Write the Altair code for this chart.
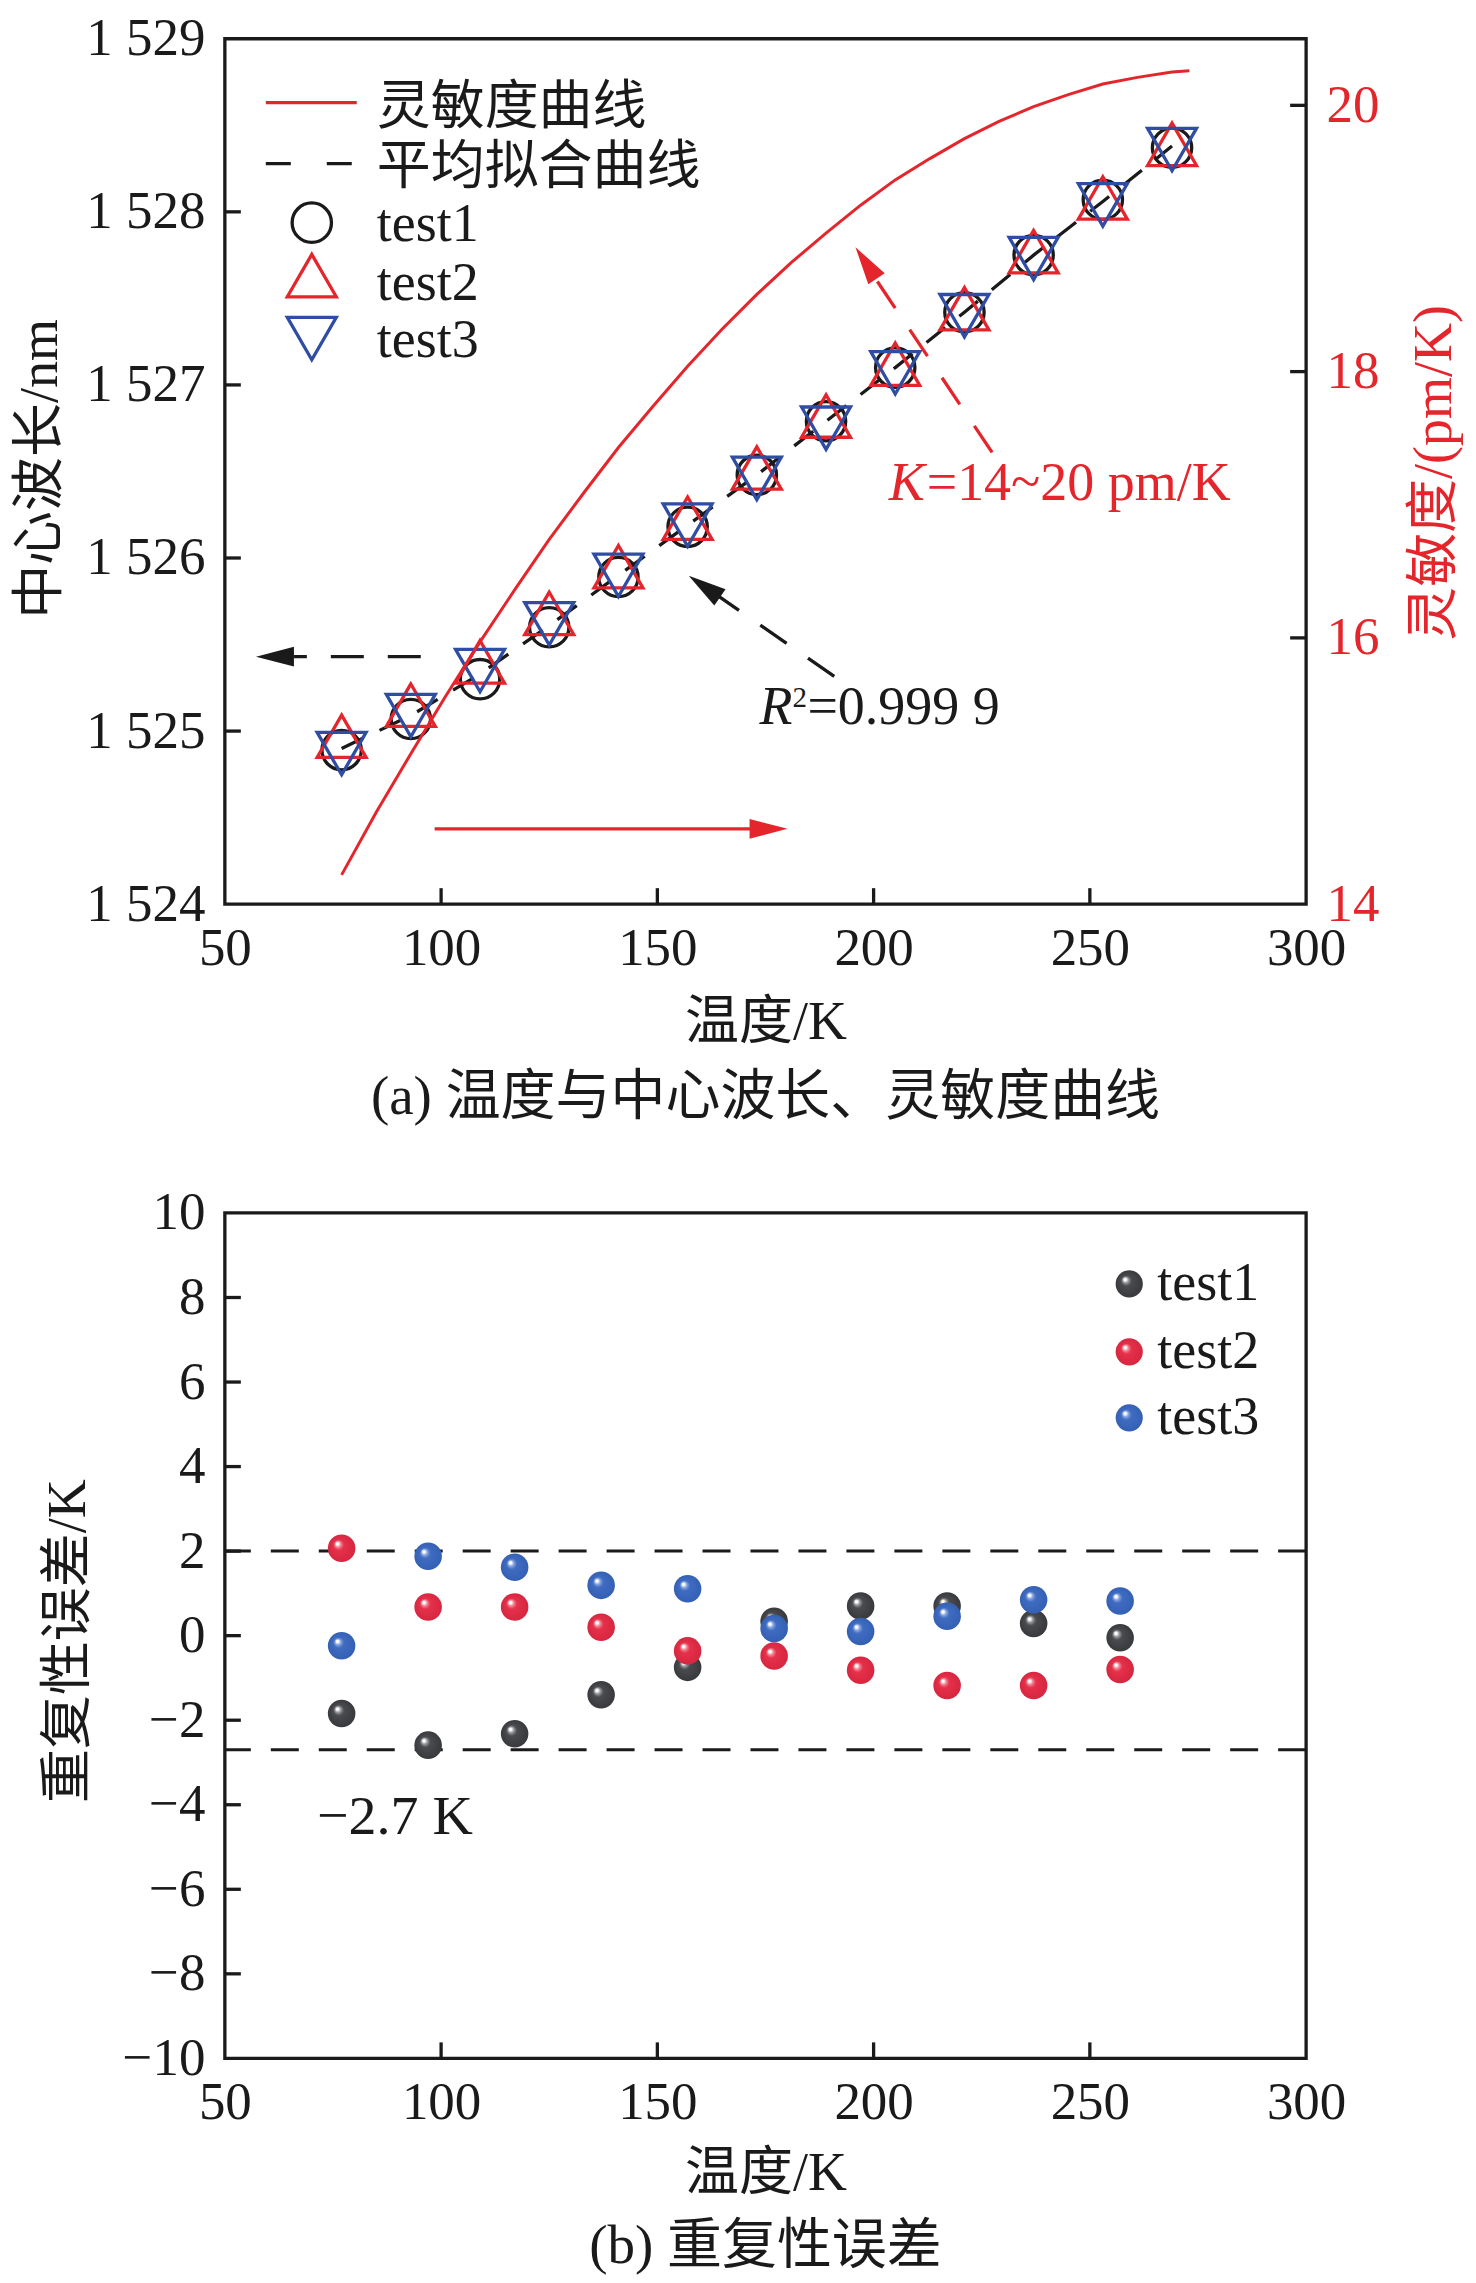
import altair as alt
import pandas as pd

FONT = "Liberation Serif, Noto Sans CJK SC"
RED = "#E4262C"
BLUE = "#2F4DA2"
BLACK = "#1A1A1A"

# ---------------- data: panel (a) ----------------
temp_a = [77, 93, 109, 125, 141, 157, 173, 189, 205, 221, 237, 253, 269]
wl_test1 = [1524.89, 1525.07, 1525.30, 1525.60, 1525.89, 1526.18, 1526.48, 1526.79, 1527.10, 1527.42, 1527.75, 1528.07, 1528.37]
wl_test2 = [1524.97, 1525.15, 1525.40, 1525.68, 1525.95, 1526.23, 1526.52, 1526.82, 1527.12, 1527.44, 1527.77, 1528.08, 1528.39]
wl_test3 = [1524.87, 1525.09, 1525.35, 1525.62, 1525.90, 1526.19, 1526.46, 1526.75, 1527.07, 1527.40, 1527.73, 1528.04, 1528.36]
wl_fit = [1524.90, 1525.09, 1525.33, 1525.61, 1525.90, 1526.19, 1526.48, 1526.79, 1527.10, 1527.42, 1527.75, 1528.06, 1528.38]

sens_temp = [77, 85, 93, 101, 109, 117, 125, 133, 141, 149, 157, 165, 173, 181, 189,
             197, 205, 213, 221, 229, 237, 245, 253, 261, 269, 273]
sens_val = [14.22, 14.69, 15.13, 15.56, 15.97, 16.36, 16.74, 17.09, 17.43, 17.74, 18.04,
            18.32, 18.58, 18.82, 19.04, 19.25, 19.44, 19.60, 19.75, 19.88, 19.99, 20.08,
            20.16, 20.21, 20.25, 20.26]

x_ticks = [50, 100, 150, 200, 250, 300]
wl_ticks = [1524, 1525, 1526, 1527, 1528, 1529]
sens_ticks = [14, 16, 18, 20]

# annotation anchor points (data coordinates)
arrow_left_T = [95.3, 66.0]
arrow_left_wl = [1525.43, 1525.43]
arrow_left_tip = (57.2, 1525.43)
arrow_right_T = [98.5, 172.0]
arrow_right_wl = [1524.435, 1524.435]
arrow_right_tip = (180.1, 1524.435)
arrow_r2_T = [190.9, 163.7]
arrow_r2_wl = [1525.316, 1525.787]
arrow_r2_tip = (157.25, 1525.898)
arrow_k_T = [227.4, 200.8]
arrow_k_wl = [1526.61, 1527.60]
arrow_k_tip = (195.8, 1527.796)
r2_pos = (173.6, 1525.04)
k_pos = (203.5, 1526.333)

# ---------------- data: panel (b) ----------------
temp_b = [77, 97, 117, 137, 157, 177, 197, 217, 237, 257]
err_test1 = [-1.84, -2.59, -2.32, -1.40, -0.75, 0.34, 0.70, 0.70, 0.29, -0.05]
err_test2 = [2.07, 0.68, 0.68, 0.20, -0.36, -0.48, -0.82, -1.18, -1.18, -0.80]
err_test3 = [-0.24, 1.88, 1.62, 1.19, 1.11, 0.17, 0.10, 0.46, 0.85, 0.82]
err_limits = [2.0, -2.7]
err_ticks = [-10, -8, -6, -4, -2, 0, 2, 4, 6, 8, 10]
limit_label_pos = (71.3, -4.69)

W, HA, HB = 1082, 866, 846
TICK = 16
SW = 3.3
LBL = 53   # tick label size
TTL = 54   # axis title size
TXT = 54   # legend / annotation size
CAP = 55   # caption size

xs = alt.Scale(domain=[50, 300], nice=False, zero=False)
ys_a = alt.Scale(domain=[1524, 1529], nice=False, zero=False)
ys_r = alt.Scale(domain=[14, 20.5], nice=False, zero=False)
ys_b = alt.Scale(domain=[-10, 10], nice=False, zero=False)

common_axis = dict(domain=False, ticks=False, grid=False, labelFont=FONT, labelFontSize=LBL,
                   labelColor=BLACK, labelFlush=False, labelOverlap=False, titleFont=FONT,
                   titleFontSize=TTL, titleFontWeight="normal", titleColor=BLACK)

x_axis_a = alt.Axis(values=x_ticks, title="温度/K", labelPadding=18, titleX=W / 2, titleY=118,
                    titleBaseline="middle", titleAlign="center", **common_axis)
left_axis = alt.Axis(values=wl_ticks, title="中心波长/nm", orient="left", labelPadding=20,
                     labelExpr="floor(datum.value/1000) + ' ' + (datum.value % 1000)",
                     titleX=-184, titleY=430, titleAngle=270, titleBaseline="middle",
                     titleAlign="center", **common_axis)
right_axis_kw = dict(common_axis)
right_axis_kw.update(labelColor=RED, titleColor=RED)
right_axis = alt.Axis(values=sens_ticks, title="灵敏度/(pm/K)", orient="right", labelPadding=20,
                      titleX=128, titleY=434, titleAngle=270, titleBaseline="middle",
                      titleAlign="center", **right_axis_kw)
x_axis_b = alt.Axis(values=x_ticks, title="温度/K", labelPadding=18, titleX=W / 2, titleY=115,
                    titleBaseline="middle", titleAlign="center", **common_axis)
y_axis_b = alt.Axis(values=err_ticks, title="重复性误差/K", orient="left", labelPadding=20,
                    titleX=-156, titleY=428, titleAngle=270, titleBaseline="middle",
                    titleAlign="center", **common_axis)

one = pd.DataFrame({"k": [0]})
ARROW = "M0,0L0.52,2L-0.52,2Z"


def XA(field="T"):
    return alt.X(field, type="quantitative", scale=xs, axis=x_axis_a)


def YA(field):
    return alt.Y(field, type="quantitative", scale=ys_a, axis=left_axis)


def YR(field):
    return alt.Y(field, type="quantitative", scale=ys_r, axis=right_axis)


def XB(field="T"):
    return alt.X(field, type="quantitative", scale=xs, axis=x_axis_b)


def YB(field):
    return alt.Y(field, type="quantitative", scale=ys_b, axis=y_axis_b)


def text_value(txt, x, y, size=TXT, color=BLACK, align="left", style="normal"):
    return alt.Chart(one).mark_text(text=txt, font=FONT, fontSize=size, color=color, align=align,
                                    baseline="middle", fontStyle=style).encode(
        x=alt.value(x), y=alt.value(y))


def arrow_line(Ts, Ws, color, dash=None):
    df = pd.DataFrame({"T": Ts, "wl": Ws, "i": list(range(len(Ts)))})
    kw = dict(color=color, strokeWidth=SW)
    if dash:
        kw["strokeDash"] = dash
    return alt.Chart(df).mark_line(**kw).encode(x=XA(), y=YA("wl"), order="i:Q")


def arrow_head(tip, color, angle):
    df = pd.DataFrame({"T": [tip[0]], "wl": [tip[1]]})
    return alt.Chart(df).mark_point(shape=ARROW, size=1444, filled=True, fill=color, color=color,
                                    strokeWidth=0, opacity=1, angle=angle).encode(
        x=XA(), y=YA("wl"))


# ---------------- panel (a) ----------------
df_a = pd.DataFrame({"T": temp_a, "test1": wl_test1, "test2": wl_test2, "test3": wl_test3, "fit": wl_fit})

fit_line = alt.Chart(df_a).mark_line(color=BLACK, strokeWidth=SW, strokeDash=[24, 18]).encode(
    x=XA(), y=YA("fit"))

m1 = alt.Chart(df_a).mark_point(shape="circle", size=1550, filled=False, stroke=BLACK,
                                strokeWidth=SW, opacity=1).encode(x=XA(), y=YA("test1"))
m2 = alt.Chart(df_a).mark_point(shape="triangle-up", size=2400, filled=False, stroke=RED,
                                strokeWidth=SW, opacity=1).encode(x=XA(), y=YA("test2"))
m3 = alt.Chart(df_a).mark_point(shape="triangle-down", size=2400, filled=False, stroke=BLUE,
                                strokeWidth=SW, opacity=1).encode(x=XA(), y=YA("test3"))

df_xt = pd.DataFrame({"T": x_ticks[1:-1]})
xt_a = alt.Chart(df_xt).mark_rule(color=BLACK, strokeWidth=SW).encode(
    x=XA(), y=alt.value(HA), y2=alt.value(HA - TICK))
df_lt = pd.DataFrame({"v": wl_ticks[1:-1]})
lt_a = alt.Chart(df_lt).mark_rule(color=BLACK, strokeWidth=SW).encode(
    y=YA("v"), x=alt.value(0), x2=alt.value(TICK))

ann = [
    arrow_line(arrow_left_T, arrow_left_wl, BLACK, [33, 24]),
    arrow_head(arrow_left_tip, BLACK, 270),
    arrow_line(arrow_right_T, arrow_right_wl, RED),
    arrow_head(arrow_right_tip, RED, 90),
    arrow_line(arrow_r2_T, arrow_r2_wl, BLACK, [32, 26]),
    arrow_head(arrow_r2_tip, BLACK, 304.7),
    arrow_line(arrow_k_T, arrow_k_wl, RED, [32, 26]),
    arrow_head(arrow_k_tip, RED, 326.3),
]
df_r2 = pd.DataFrame({"T": [r2_pos[0]], "wl": [r2_pos[1]]})
df_k = pd.DataFrame({"T": [k_pos[0]], "wl": [k_pos[1]]})


def ann_text(df, txt, size, color, style="normal", dx=0, dy=0):
    return alt.Chart(df).mark_text(text=txt, font=FONT, fontSize=size, color=color, align="left",
                                   baseline="alphabetic", fontStyle=style, dx=dx, dy=dy).encode(
        x=XA(), y=YA("wl"))


ann += [
    ann_text(df_r2, "R", TXT, BLACK, "italic"),
    ann_text(df_r2, "2", 29, BLACK, dx=33, dy=-17),
    ann_text(df_r2, "=0.999 9", TXT, BLACK, dx=48),
    ann_text(df_k, "K", TXT, RED, "italic"),
    ann_text(df_k, "=14~20 pm/K", TXT, RED, dx=38),
]

leg_a = [
    alt.Chart(one).mark_rule(color=RED, strokeWidth=SW).encode(
        x=alt.value(41), x2=alt.value(132), y=alt.value(64)),
    alt.Chart(one).mark_rule(color=BLACK, strokeWidth=SW, strokeDash=[25, 36]).encode(
        x=alt.value(41), x2=alt.value(127), y=alt.value(125)),
    alt.Chart(one).mark_point(shape="circle", size=1550, filled=False, stroke=BLACK,
                              strokeWidth=SW, opacity=1).encode(x=alt.value(87), y=alt.value(184)),
    alt.Chart(one).mark_point(shape="triangle-up", size=2400, filled=False, stroke=RED,
                              strokeWidth=SW, opacity=1).encode(x=alt.value(87), y=alt.value(237)),
    alt.Chart(one).mark_point(shape="triangle-down", size=2400, filled=False, stroke=BLUE,
                              strokeWidth=SW, opacity=1).encode(x=alt.value(87), y=alt.value(300)),
    text_value("灵敏度曲线", 152, 69),
    text_value("平均拟合曲线", 152, 129),
    text_value("test1", 152, 186),
    text_value("test2", 152, 245),
    text_value("test3", 152, 302),
    text_value("(a) 温度与中心波长、灵敏度曲线", W / 2, 1059, CAP, align="center"),
]

left_layer = alt.layer(fit_line, m1, m2, m3, xt_a, lt_a, *ann, *leg_a)

df_s = pd.DataFrame({"T": sens_temp, "S": sens_val})
curve = alt.Chart(df_s).mark_line(color=RED, strokeWidth=3.0).encode(x=XA(), y=YR("S"))
df_rt = pd.DataFrame({"v": sens_ticks[1:]})
rt_a = alt.Chart(df_rt).mark_rule(color=BLACK, strokeWidth=SW).encode(
    y=YR("v"), x=alt.value(W), x2=alt.value(W - TICK))
right_layer = alt.layer(curve, rt_a)

top = alt.layer(left_layer, right_layer).resolve_scale(y="independent").properties(width=W, height=HA)

# ---------------- panel (b) ----------------
df_b = pd.DataFrame({"T": temp_b, "test1": err_test1, "test2": err_test2, "test3": err_test3})


def sphere(base, light, edge):
    return {"gradient": "radial", "x1": 0.33, "y1": 0.32, "r1": 0, "x2": 0.5, "y2": 0.5, "r2": 0.5,
            "stops": [{"offset": 0, "color": "#ffffff"}, {"offset": 0.1, "color": "#ffffff"},
                      {"offset": 0.2, "color": light}, {"offset": 0.38, "color": base},
                      {"offset": 1, "color": edge}]}


G1 = sphere("#4a4b4f", "#a0a0a4", "#38393c")
G2 = sphere("#e6304a", "#f28c9a", "#d62640")
G3 = sphere("#3f6cc1", "#8eaae2", "#3460b4")

df_lim = pd.DataFrame({"v": err_limits})
lim = alt.Chart(df_lim).mark_rule(color=BLACK, strokeWidth=3.0, strokeDash=[28, 20]).encode(y=YB("v"))

s1 = alt.Chart(df_b).mark_circle(size=760, opacity=1, fill=G1, strokeWidth=0).encode(x=XB(), y=YB("test1"))
s2 = alt.Chart(df_b).mark_circle(size=760, opacity=1, fill=G2, strokeWidth=0).encode(x=XB(), y=YB("test2"))
s3 = alt.Chart(df_b).mark_circle(size=760, opacity=1, fill=G3, strokeWidth=0).encode(x=XB(), y=YB("test3"))

xt_b = alt.Chart(df_xt).mark_rule(color=BLACK, strokeWidth=SW).encode(
    x=XB(), y=alt.value(HB), y2=alt.value(HB - TICK))
df_bt = pd.DataFrame({"v": err_ticks[1:-1]})
yt_b = alt.Chart(df_bt).mark_rule(color=BLACK, strokeWidth=SW).encode(
    y=YB("v"), x=alt.value(0), x2=alt.value(TICK))

df_ll = pd.DataFrame({"T": [limit_label_pos[0]], "v": [limit_label_pos[1]]})
lim_text = alt.Chart(df_ll).mark_text(text="−2.7 K", font=FONT, fontSize=56, color=BLACK,
                                      align="left", baseline="alphabetic").encode(x=XB(), y=YB("v"))

leg_b = []
for g, yy, name in [(G1, 71, "test1"), (G2, 139, "test2"), (G3, 205, "test3")]:
    leg_b.append(alt.Chart(one).mark_circle(size=740, opacity=1, fill=g, strokeWidth=0).encode(
        x=alt.value(905), y=alt.value(yy)))
    leg_b.append(text_value(name, 933, yy))
leg_b.append(text_value("(b) 重复性误差", W / 2, 1034, CAP, align="center"))

bottom = alt.layer(lim, s1, s2, s3, xt_b, yt_b, lim_text, *leg_b).properties(width=W, height=HB)

chart = alt.vconcat(top, bottom, spacing=309, bounds="flush").properties(
    padding={"left": 4, "top": 2, "right": 5, "bottom": 5}, background="white"
).configure_view(stroke=BLACK, strokeWidth=SW)

chart.save("out.html", embed_options={"renderer": "svg", "actions": False})
